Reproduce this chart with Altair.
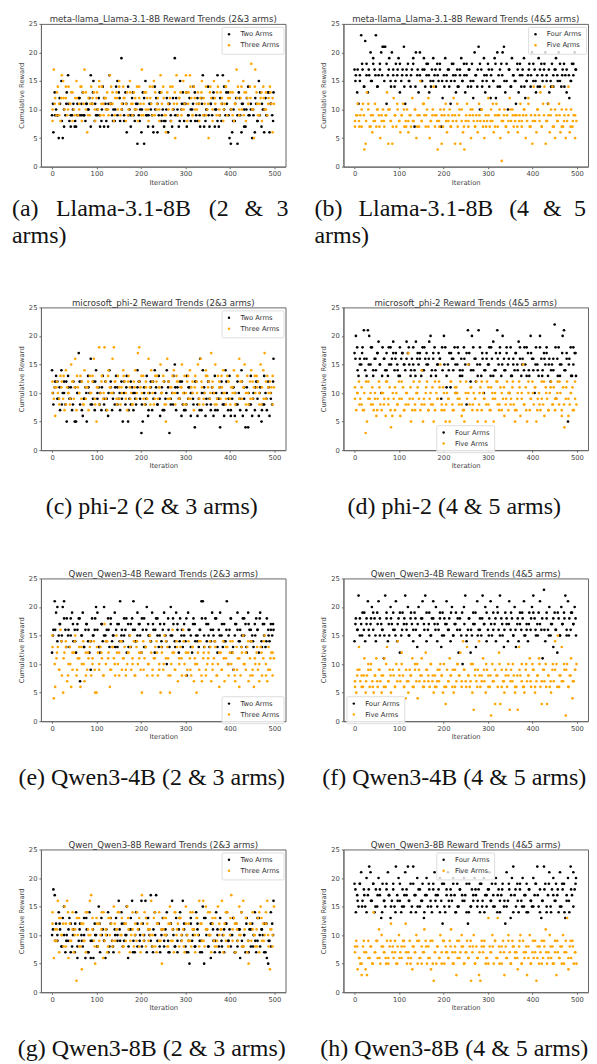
import altair as alt
import pandas as pd

STEP = 3
STEP_X = 5
A2 = [9,6,13,10,9,5,11,15,5,7, 9,13,16,8,7,9,11,7,7,9, 12,9,11,13,9,8,11,10,12,16,
 11,15,8,9,10,12,7,8,14,7, 11,10,7,16,11,9,10,8,14,15, 13,8,19,11,9,13,6,14,10,7,
 12,9,8,11,4,9,10,6,13,4, 15,9,7,11,10,9,6,14,12,6, 9,13,8,10,7,8,12,6,11,8,
 7,10,19,12,9,7,15,10,13,8, 11,7,9,12,8,10,14,13,9,8, 11,7,12,16,9,8,10,14,7,11,
 9,13,7,10,16,7,12,8,16,14, 9,11,13,5,4,6,10,8,12,4, 13,9,6,11,10,7,12,14,9,10,
 5,9,6,11,8,15,13,7,10,6, 12,9,13,6,11,9,13]
A3 = [8,17,12,9,14,11,8,16,15,10, 12,9,14,11,13,8,10,12,15,9, 11,14,8,13,17,10,6,12,9,14,
 11,13,8,12,10,15,9,14,11,12, 10,13,9,16,14,11,8,12,13,10, 15,9,11,14,12,8,13,10,15,11,
 9,13,12,10,8,14,11,17,9,13, 10,12,8,14,11,9,15,13,10,12, 8,16,11,14,9,6,13,10,12,8,
 14,11,5,16,9,12,13,10,15,11, 16,8,13,16,12,9,14,10,11,13, 8,12,15,9,11,14,10,5,13,12,
 8,15,11,9,14,10,13,12,8,11, 14,9,15,12,10,13,8,11,17,14, 9,12,10,15,13,8,12,11,14,18,
 10,5,17,13,9,11,12,8,14,10, 13,9,12,14,11,6,11]
B4 = [17,16,13,11,15,23,17,14,22,18, 13,16,20,15,19,17,23,14,16,18, 20,21,21,21,11,16,19,15,20,17,
 14,18,16,19,13,15,17,21,11,16, 18,15,14,17,19,7,20,16,13,20, 15,17,19,14,16,18,13,15,17,19,
 16,14,18,15,17,7,12,16,19,15, 17,14,11,18,16,15,13,17,14,16, 19,15,18,13,16,14,17,15,18,12,
 20,16,14,21,10,17,15,19,13,16, 18,14,12,17,15,19,12,20,16,14, 18,20,21,13,15,10,17,14,19,16,
 15,11,18,13,16,14,17,19,12,15, 16,18,14,20,15,17,13,16,19,14, 18,15,17,20,16,11,13,15,18,14,
 17,19,16,20,15,14,17,18,16,13, 21,12,15,18,16,20,17]
B5 = [7,9,11,8,9,7,11,3,4,13, 10,7,9,6,8,11,7,10,9,5, 8,10,7,9,13,4,10,8,4,12,
 9,7,10,8,6,9,11,7,8,10, 6,9,7,12,8,10,5,9,7,15, 8,11,9,7,10,12,5,8,9,14,
 7,9,3,8,10,4,7,9,11,6, 8,10,7,9,12,4,8,7,9,4, 10,6,3,8,11,7,9,5,10,8,
 7,9,6,11,8,10,7,5,9,8, 12,7,10,8,6,9,11,7,9,5, 1,8,10,7,9,6,12,8,10,7,
 9,9,6,8,11,7,9,10,5,8, 12,7,9,4,14,8,6,10,9,13, 7,11,14,4,8,9,6,10,14,7,
 5,9,8,11,6,10,7,9,5,8, 14,6,10,7,9,5,8]
C2 = [14,8,11,13,12,9,7,14,10,12, 8,5,13,9,11,7,12,5,5,10, 17,8,12,6,9,11,5,13,10,16,
 8,12,7,14,9,11,10,7,13,8, 12,9,6,14,11,7,10,8,13,11, 9,7,12,5,10,8,13,5,9,12,
 11,7,10,8,14,12,9,3,5,11, 8,13,6,10,12,7,9,14,11,8, 13,6,10,7,12,9,14,11,3,8,
 10,13,15,7,11,9,12,6,8,10, 7,13,9,11,6,10,8,4,12,6, 9,16,7,14,10,6,8,12,9,7,
 11,6,13,10,7,9,4,12,8,6, 14,10,7,13,6,9,11,6,8,12, 10,7,14,6,9,4,11,4,8,13,
 6,10,7,12,9,6,11,5,8,13, 10,7,12,6,9,8,16]
C3 = [12,9,6,11,10,8,13,12,9,7, 14,11,10,8,15,12,9,16,7,11, 10,13,12,8,14,9,11,7,13,10,
 12,16,8,5,11,18,10,13,9,18, 12,7,14,11,10,16,18,12,9,13, 11,8,10,14,12,9,7,13,11,10,
 8,12,14,9,17,18,11,10,13,8, 12,9,16,11,14,10,8,13,12,9, 11,15,10,13,8,5,16,12,9,11,
 10,14,8,13,12,9,11,15,10,13, 8,12,9,14,11,10,7,13,12,15, 9,16,11,8,10,14,13,12,9,17,
 11,10,15,8,13,12,9,11,14,10, 8,13,12,9,11,10,14,8,5,13, 16,12,9,11,15,10,13,8,12,14,
 9,11,10,13,12,8,15,11,14,17, 9,13,10,12,11,8,11]
D4 = [17,20,18,13,16,15,18,21,14,16, 21,20,15,18,13,16,14,17,19,15, 10,18,16,14,17,13,15,18,16,19,
 14,17,15,13,18,16,17,15,14,19, 17,15,13,16,18,14,19,16,15,17, 13,18,14,16,17,15,19,20,14,16,
 18,13,15,17,16,9,14,20,18,11, 15,17,11,16,14,18,10,15,17,13, 16,14,18,15,8,21,17,12,20,14,
 16,12,15,21,18,13,16,10,14,17, 15,18,13,16,19,14,17,21,15,18, 13,20,16,14,17,15,10,18,13,16,
 14,17,15,19,18,13,16,14,15,18, 17,13,20,16,14,10,18,15,13,20, 16,14,17,15,18,13,16,12,15,14,
 22,9,16,18,13,15,20,21,14,17, 5,16,18,13,15,17,13]
D5 = [11,7,10,12,9,8,7,10,3,5, 12,9,8,11,7,10,6,9,12,8, 7,10,9,6,12,8,11,4,6,9,
 7,10,8,12,6,9,11,7,8,10, 17,9,5,7,12,8,10,11,9,7, 14,5,8,10,12,7,9,8,11,5,
 7,10,9,12,15,8,11,7,5,10, 9,5,12,8,7,10,11,9,8,12, 6,7,5,10,9,15,8,11,7,10,
 9,12,5,8,11,7,10,9,5,12, 8,7,11,10,5,9,12,8,7,11, 10,9,6,8,12,7,10,9,11,8,
 5,7,10,12,6,9,15,8,11,5, 10,7,9,12,8,11,5,9,10,7, 12,8,6,11,9,7,10,12,8,11,
 7,9,12,8,10,6,11,4,9,12, 6,8,10,11,7,9,8]
E2 = [12,16,21,19,20,15,17,14,20,21, 16,18,15,13,18,19,14,16,12,17, 18,7,15,19,13,16,17,14,12,9,
 18,15,16,20,19,13,12,17,14,20, 15,16,18,13,17,14,15,19,16,13, 17,21,15,14,18,16,12,17,15,13,
 18,21,16,14,19,17,15,12,16,18, 13,20,17,15,14,19,16,12,18,15, 13,17,14,16,19,15,10,18,13,20,
 15,17,14,19,16,12,18,15,13,17, 14,8,19,16,15,12,18,17,15,14, 13,16,21,21,15,18,14,17,13,16,
 19,15,14,18,12,16,19,15,13,17, 14,21,10,16,18,12,9,15,17,19, 14,16,13,18,15,17,12,19,16,14,
 15,13,17,18,16,12,19,14,17,15, 13,18,16,14,17,15,16]
E3 = [15,4,6,11,13,9,16,8,5,12, 14,7,10,13,6,9,12,15,8,11, 13,6,10,14,7,12,9,11,13,8,
 10,14,5,5,12,9,13,11,8,17, 10,14,12,6,9,13,11,8,15,10, 12,14,9,11,13,8,10,12,15,9,
 11,14,8,13,10,12,9,5,14,11, 13,8,10,15,12,9,11,13,14,8, 10,5,12,9,15,11,13,8,5,10,
 16,12,9,14,7,11,13,8,16,10, 12,9,14,11,8,13,7,10,5,12, 9,14,7,11,13,8,10,12,14,7,
 9,11,13,8,10,6,12,9,14,7, 11,13,8,12,10,14,9,7,13,11, 6,8,12,15,10,9,13,7,11,14,
 8,6,10,12,9,7,13,8,11,15, 10,7,13,9,12,8,11]
F4 = [14,18,16,22,15,17,19,16,14,18, 21,15,17,20,16,18,14,19,21,15, 17,16,11,22,18,14,15,20,17,19,
 16,21,14,18,12,15,19,17,22,16, 20,15,18,17,14,19,16,13,20,15, 18,21,17,22,14,16,19,15,18,21,
 17,20,14,16,18,13,19,15,17,21, 16,18,14,20,15,17,19,16,12,18, 15,10,20,22,14,16,18,12,15,19,
 17,13,21,16,18,15,22,17,20,14, 16,18,21,15,19,17,14,20,16,22, 18,15,13,19,17,14,21,16,18,15,
 20,13,17,14,19,16,18,21,15,17, 14,19,16,20,22,18,15,17,19,21, 16,11,23,14,18,16,20,15,17,13,
 19,16,12,18,15,20,17,19,22,15, 21,18,16,19,17,20,15]
F5 = [6,5,9,13,7,8,6,11,5,8, 9,6,10,7,5,8,11,6,9,7, 5,8,11,6,13,7,9,5,1,8,
 6,10,14,9,7,12,8,6,4,7, 5,9,8,11,6,10,7,4,9,8, 11,6,7,12,9,8,6,10,7,5,
 8,6,9,7,10,8,5,6,3,9, 7,11,8,6,5,9,7,10,8,12, 6,14,9,7,13,8,6,10,5,2,
 8,7,9,14,6,8,11,7,5,9, 8,6,1,10,7,3,8,6,12,3, 9,7,5,8,6,10,2,9,7,8,
 5,6,2,13,8,10,6,5,9,7, 8,11,6,10,9,5,7,8,11,6, 3,9,7,10,3,8,6,5,9,7,
 14,10,15,6,8,13,7,9,1,10, 6,8,11,4,7,9,10]
G2 = [10,18,17,12,9,14,11,8,13,15, 7,10,9,13,12,8,11,7,14,6, 9,12,10,8,13,6,11,7,14,6,
 9,6,12,10,8,15,7,13,11,9, 6,10,14,8,12,9,7,11,13,10, 16,9,14,8,12,10,15,6,11,13,
 16,9,7,14,8,11,10,16,12,9, 16,7,13,10,17,8,11,14,17,9, 12,7,10,13,8,11,14,9,7,12,
 16,10,8,13,7,11,14,9,16,12, 8,10,7,5,13,9,11,8,14,12, 10,7,9,15,5,13,11,8,10,6,
 12,9,7,14,11,8,13,9,10,7, 12,14,9,11,8,10,13,7,12,9, 11,6,14,8,10,7,13,9,11,8,
 12,10,14,7,9,13,8,11,10,12, 7,6,5,9,14,12,16]
G3 = [14,6,11,9,16,7,13,10,12,15, 8,16,6,12,9,14,7,11,2,10, 13,8,4,12,9,7,14,10,16,17,
 11,9,5,13,8,12,10,14,6,9, 11,7,13,10,12,8,15,9,11,14, 7,10,13,8,12,9,15,11,7,10,
 14,8,12,9,11,13,7,17,10,14, 8,12,9,11,16,10,13,8,7,12, 14,9,5,11,10,13,8,12,15,9,
 11,7,14,10,12,8,13,9,11,7, 15,10,12,9,8,14,11,7,13,10, 16,12,9,16,8,15,11,10,14,7,
 12,9,13,8,15,10,11,16,7,12, 9,14,8,10,17,11,13,7,12,9, 15,10,8,16,11,13,7,5,12,9,
 14,10,8,11,13,7,15,9,12,10, 14,16,8,4,11,10,15]
H4 = [19,14,17,15,19,21,16,18,15,20, 17,22,21,16,19,14,18,15,20,17, 13,19,16,15,18,21,17,13,16,19,
 15,22,17,20,16,14,18,15,21,17, 22,16,19,15,22,17,14,20,18,15, 16,19,13,17,20,15,18,16,14,19,
 21,17,15,18,20,16,12,19,14,17, 21,15,18,16,20,17,14,19,15,18, 21,16,20,17,14,12,19,15,18,16,
 20,17,15,18,14,19,16,20,17,15, 18,21,16,19,17,15,20,14,18,16, 17,19,15,12,21,16,18,13,20,22,
 17,15,19,14,18,16,20,15,17,19, 14,18,16,15,20,17,19,22,15,18, 13,16,22,19,14,17,21,15,18,20,
 16,19,17,14,21,15,18,19,13,16, 20,14,22,17,21,18,20]
H5 = [8,9,4,6,5,3,8,7,4,3, 9,6,8,5,14,7,9,6,11,5, 10,8,7,6,9,5,8,12,7,6,
 9,5,8,10,7,6,9,8,12,5, 7,9,6,4,8,7,10,5,9,6, 8,7,11,9,5,8,6,4,9,2,
 7,5,8,6,10,7,9,5,8,7, 6,9,11,7,5,8,3,6,9,7, 10,8,5,7,9,6,8,2,7,10,
 5,8,6,3,2,8,7,9,5,6, 13,8,7,10,5,9,6,13,8,7, 5,9,3,8,6,10,7,5,9,8,
 6,7,4,8,10,5,9,6,7,3, 8,10,5,7,6,9,2,8,5,7, 9,6,8,11,5,7,10,6,8,5,
 9,3,7,6,8,5,10,7,9,13, 4,8,6,9,5,7,5]

A2X = [11,9,9,12,8,10,11,11,9,10, 8,11,12,9,9,11,10,7,13,11, 9,9,10,12,8,11,11,8,10,9,
 12,10,8,11,9,9,13,10,11,8, 10,12,9,9,11,7,10,11,13,9, 8,10,11,9,12,9,10,8,11,11, 13,9,10,11,8,12,9,11,7,10,
 9,11,12,10,8,9,11,10,13,9, 10,8,11,9,12,11,7,10,9,11, 10,12,8,9,11,10,9,13,11,8]
A3X = [10,11,13,9,12,12,14,10,11,13, 9,12,10,14,11,13,9,11,12,10, 13,14,11,9,12,10,11,13,9,12,
 14,10,12,11,9,13,11,10,14,12, 9,11,13,10,12,14,9,11,10,13, 12,9,11,14,10,13,11,12,9,10, 13,11,14,9,12,10,11,13,12,9,
 11,14,10,12,13,9,11,10,14,12, 13,9,11,12,10,14,9,13,11,12, 10,14,11,9,13,12,10,11,13,12]
B4X = [15,17,16,18,14,16,17,15,18,16, 14,17,16,15,18,17,14,16,15,17, 18,16,14,17,15,16,18,14,17,16,
 15,17,18,16,14,15,17,16,18,15, 14,16,17,15,18,16,14,17,15,16, 18,17,14,15,16,17,18,14,16,15, 17,16,15,18,14,17,16,15,18,17,
 14,16,15,17,18,16,14,15,17,16, 18,15,14,17,16,18,15,17,14,16, 17,15,18,16,14,17,16,15,18,17]
B5X = [8,9,7,10,9,8,11,7,9,8, 10,7,9,8,9,10,8,7,9,11, 8,9,10,7,8,9,8,10,7,9,
 8,11,9,7,8,10,9,8,7,9, 10,8,9,7,8,9,11,10,8,7, 9,8,10,9,7,8,9,10,8,7, 9,8,11,7,9,10,8,9,7,8,
 10,9,8,7,9,8,10,9,11,7, 8,9,10,8,7,9,8,11,9,7, 10,8,9,7,8,10,9,7,8,9]
C2X = [10,12,9,11,8,10,12,11,9,8, 11,10,12,7,9,10,11,8,9,12, 10,8,11,9,7,10,12,9,11,8,
 10,9,12,11,7,8,10,9,11,12, 8,10,9,7,11,12,10,8,9,11, 7,10,12,9,8,11,10,9,12,7, 8,11,10,9,12,8,7,10,11,9,
 12,8,10,7,9,11,10,8,12,9, 7,11,10,8,9,12,11,7,10,8, 9,11,12,10,7,8,9,11,10,12]
C3X = [10,11,12,9,11,13,8,10,9,12, 11,13,10,9,8,11,12,10,13,9, 11,8,12,10,9,13,11,10,12,8,
 9,11,13,10,12,9,8,11,10,12, 13,9,11,10,8,12,9,13,11,10, 12,8,9,11,13,10,12,9,11,8, 10,13,9,12,11,10,8,12,9,13,
 11,10,12,8,9,11,13,10,9,12, 8,11,10,13,9,12,11,8,10,9, 12,13,11,10,8,9,12,11,10,13]
D4X = [16,14,15,17,16,13,15,18,14,16, 17,15,13,16,14,18,15,17,16,14, 13,17,15,16,18,14,15,13,17,16,
 14,18,15,16,13,17,14,15,16,18, 15,13,14,17,16,15,18,14,13,16, 17,15,14,18,16,13,15,17,14,16, 15,18,13,14,16,17,15,14,18,16,
 13,15,17,14,16,15,18,13,14,17, 16,15,14,18,13,16,17,15,14,16, 18,13,15,17,14,16,15,13,18,17]
D5X = [9,10,8,11,7,12,9,10,8,9, 7,11,10,8,12,9,7,10,11,8, 9,12,7,10,8,11,9,7,10,12, 8,9,11,7,10,8,12,9,11,7,
 10,8,9,12,7,11,10,9,8,7, 12,10,11,8,9,7,10,12,9,8, 11,7,9,10,12,8,7,11,9,10, 8,12,7,9,11,10,8,7,12,9,
 10,11,7,8,9,12,10,7,11,8, 9,10,12,7,8,11,9,10,7,12]
E2X = [15,16,14,17,15,18,13,16,15,17, 14,16,18,15,13,17,16,14,15,18, 16,13,17,15,14,16,18,15,13,17,
 14,16,15,18,13,17,16,14,15,17, 18,13,16,15,14,17,16,18,15,13, 17,14,16,15,18,13,17,14,16,15, 18,16,13,17,14,15,16,18,13,17,
 15,14,16,18,13,15,17,14,16,15, 18,13,17,16,14,15,18,13,17,16, 14,15,16,18,13,17,14,15,16,17]
E3X = [13,10,12,9,14,11,13,8,10,12, 14,9,11,13,10,8,12,14,11,9, 13,10,12,8,14,11,9,13,10,12, 8,14,11,9,12,13,10,8,14,11,
 12,9,13,10,14,8,11,12,9,13, 10,14,11,8,12,9,13,10,11,14, 8,12,9,13,11,10,14,8,12,9, 11,13,10,14,8,12,9,11,13,10,
 14,12,8,9,11,13,10,12,14,8, 9,11,13,10,12,14,8,9,11,12]
F4X = [17,16,18,15,19,17,16,18,19,15, 17,18,16,15,19,17,18,16,15,17, 19,16,18,17,15,19,16,18,17,15, 18,16,19,17,15,18,16,17,19,15,
 18,17,16,19,15,17,18,16,19,17, 15,18,16,17,19,15,16,18,17,19, 15,17,16,18,19,15,17,16,18,17, 19,15,16,18,17,19,15,16,17,18,
 19,16,15,17,18,16,19,15,17,18, 16,19,15,17,18,16,15,19,17,18]
F5X = [7,8,9,6,8,7,10,9,6,8, 7,9,8,6,10,7,8,9,6,7, 8,10,6,9,7,8,6,9,10,7, 8,6,9,7,10,8,6,7,9,8,
 10,6,7,8,9,6,10,8,7,9, 6,8,7,10,9,6,8,7,9,10, 6,8,7,9,8,10,6,7,9,8, 7,10,6,8,9,7,6,10,8,7,
 9,6,8,10,7,9,6,8,7,10, 9,6,8,7,10,9,6,8,7,9]
G2X = [11,9,10,12,8,10,9,11,7,10, 12,8,11,9,10,13,7,9,11,10, 8,12,10,9,11,7,13,8,10,9, 11,12,9,10,8,11,7,10,12,9,
 8,10,13,11,9,7,10,12,8,11, 9,10,7,12,11,8,9,13,10,11, 7,9,12,10,8,11,9,7,13,10, 8,12,11,9,10,7,8,11,12,9,
 10,13,7,8,11,9,10,12,7,11, 8,9,13,10,11,7,12,9,8,10]
G3X = [12,9,11,13,10,8,12,14,9,11, 10,13,8,12,9,14,11,10,13,8, 12,9,11,14,10,8,13,9,12,11, 14,10,8,12,13,9,11,10,14,8,
 12,9,13,11,10,8,14,12,9,11, 13,10,8,12,9,14,11,13,10,8, 12,9,14,11,10,13,8,12,9,11, 14,10,13,8,9,12,11,10,14,8,
 13,9,12,11,10,14,8,13,9,12, 11,10,8,14,13,9,12,10,11,8]
H4X = [18,16,19,15,17,14,18,16,19,15, 17,18,14,16,19,17,15,18,14,16, 19,15,17,18,16,14,19,17,15,18, 16,14,17,19,15,18,16,17,14,19,
 15,18,16,17,19,14,15,18,17,16, 19,14,15,17,18,16,19,15,14,17, 18,16,15,19,17,14,18,16,15,19, 17,14,18,16,19,15,17,14,18,16,
 15,19,17,14,16,18,15,19,14,17, 16,18,15,19,14,17,16,18,15,19]
H5X = [7,8,6,5,9,7,6,8,5,7, 9,6,8,7,5,6,9,8,7,5, 6,8,9,7,6,5,8,7,9,6, 5,7,8,6,9,5,7,8,6,5,
 9,7,6,8,5,7,9,6,8,5, 7,6,9,8,5,6,7,9,8,6, 5,7,8,9,6,5,8,7,6,9, 5,8,7,6,9,5,7,8,6,5,
 9,7,6,8,5,9,7,6,8,5, 7,9,6,8,5,7,6,9,8,7]

TITLES = ["meta-llama_Llama-3.1-8B Reward Trends (2&3 arms)", "meta-llama_Llama-3.1-8B Reward Trends (4&5 arms)",
          "microsoft_phi-2 Reward Trends (2&3 arms)", "microsoft_phi-2 Reward Trends (4&5 arms)",
          "Qwen_Qwen3-4B Reward Trends (2&3 arms)", "Qwen_Qwen3-4B Reward Trends (4&5 arms)",
          "Qwen_Qwen3-8B Reward Trends (2&3 arms)", "Qwen_Qwen3-8B Reward Trends (4&5 arms)"]
W, H = 245, 143
GREY = "#444444"


def panel(title, names, ys, extras, leg_xy, caps):
    rows = []
    for k, (name, y, e) in enumerate(zip(names, ys, extras)):
        rows += [{"it": i * STEP + k, "r": v, "s": name} for i, v in enumerate(y)]
        rows += [{"it": i * STEP_X + 2 - k, "r": v, "s": name} for i, v in enumerate(e)]
    pts = alt.Chart(pd.DataFrame(rows), title=alt.Title(
        title, fontSize=8.6, font="DejaVu Sans", fontWeight="normal", color="#333333", offset=-3, frame="group")
    ).mark_circle(size=7, opacity=1, stroke=None).encode(
        x=alt.X("it:Q", title="Iteration", scale=alt.Scale(domain=[-25, 525], nice=False),
                axis=alt.Axis(values=[0, 100, 200, 300, 400, 500], titlePadding=2)),
        y=alt.Y("r:Q", title="Cumulative Reward", scale=alt.Scale(domain=[0, 25], nice=False),
                axis=alt.Axis(values=[0, 5, 10, 15, 20, 25], titlePadding=4)),
        color=alt.Color("s:N", sort=names, scale=alt.Scale(domain=names, range=["black", "orange"]),
                        legend=alt.Legend(title=None, orient="none", legendX=leg_xy[0], legendY=leg_xy[1],
                                          fillColor="rgba(255,255,255,0.8)", strokeColor="#dddddd",
                                          padding=4, rowPadding=3, labelFontSize=6.8, labelColor="#333333",
                                          labelFont="DejaVu Sans", symbolSize=6, symbolType="circle",
                                          labelOffset=8, zindex=1, cornerRadius=1)),
    )
    layers = [pts]
    for text, x, y, align in caps:
        layers.append(alt.Chart(pd.DataFrame({"t": [text]})).mark_text(
            font="Liberation Serif", fontSize=24, color="#111111", align=align, baseline="middle"
        ).encode(text="t:N", x=alt.value(x), y=alt.value(y)))
    return alt.layer(*layers).properties(width=W, height=H)


def one(text):
    return [(text, 111, 200, "center")]


def two(words, xs, second):
    return [(w, x, 185, "left") for w, x in zip(words, xs)] + [(second, -29, 212, "left")]


p = [
    panel(TITLES[0], ["Two Arms", "Three Arms"], [A2, A3], [A2X, A3X], (181, 3),
          two(["(a)", "Llama-3.1-8B", "(2", "&", "3"], [-29, 15, 168, 204, 236], "arms)")),
    panel(TITLES[1], ["Four Arms", "Five Arms"], [B4, B5], [B4X, B5X], (185, 3),
          two(["(b)", "Llama-3.1-8B", "(4", "&", "5"], [-29, 15, 166, 200, 231], "arms)")),
    panel(TITLES[2], ["Two Arms", "Three Arms"], [C2, C3], [C2X, C3X], (181, 3), one("(c) phi-2 (2 & 3 arms)")),
    panel(TITLES[3], ["Four Arms", "Five Arms"], [D4, D5], [D4X, D5X], (93, 118), one("(d) phi-2 (4 & 5 arms)")),
    panel(TITLES[4], ["Two Arms", "Three Arms"], [E2, E3], [E2X, E3X], (181, 118), one("(e) Qwen3-4B (2 & 3 arms)")),
    panel(TITLES[5], ["Four Arms", "Five Arms"], [F4, F5], [F4X, F5X], (3, 118), one("(f) Qwen3-4B (4 & 5 arms)")),
    panel(TITLES[6], ["Two Arms", "Three Arms"], [G2, G3], [G2X, G3X], (181, 3), one("(g) Qwen3-8B (2 & 3 arms)")),
    panel(TITLES[7], ["Four Arms", "Five Arms"], [H4, H5], [H4X, H5X], (93, 3), one("(h) Qwen3-8B (4 & 5 arms)")),
]


def row(a, b):
    return alt.hconcat(a, b, spacing=58, bounds="flush").resolve_scale(color="independent")


lower = alt.vconcat(row(p[2], p[3]), row(p[4], p[5]), row(p[6], p[7]), spacing=271.5, bounds="flush")
chart = alt.vconcat(row(p[0], p[1]), lower, spacing=284, bounds="flush").resolve_scale(
    color="independent"
).properties(padding={"left": 3, "top": 5, "right": 0, "bottom": 0}).configure_view(
    stroke="#666666", strokeWidth=1
).configure_axis(
    grid=False, domainColor="#666666", tickColor="#666666", tickSize=2, labelFontSize=6.8,
    titleFontSize=6.8, labelFont="DejaVu Sans", titleFont="DejaVu Sans", titleFontWeight="normal",
    labelColor=GREY, titleColor=GREY, labelPadding=2
)
chart.save("out.html", embed_options={"renderer": "svg", "actions": False})
